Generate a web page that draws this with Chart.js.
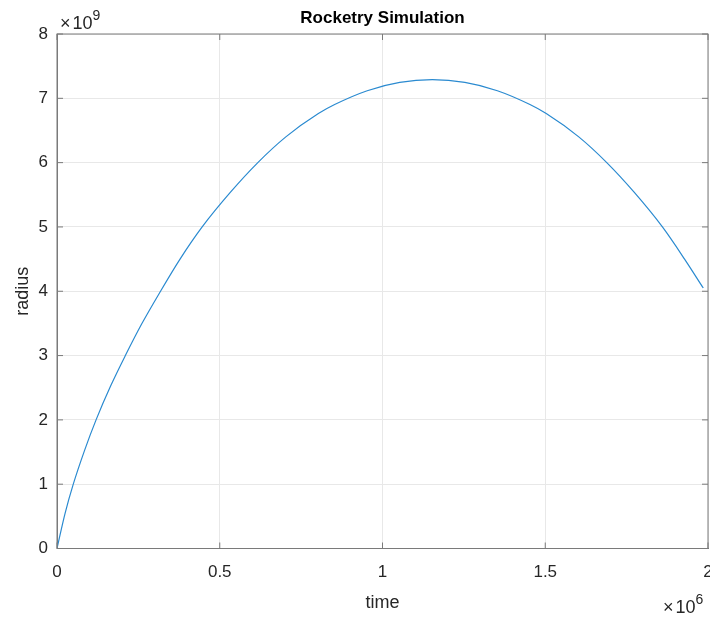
<!DOCTYPE html>
<html>
<head>
<meta charset="utf-8">
<script src="https://cdn.jsdelivr.net/npm/chart.js@4/dist/chart.umd.min.js"></script>
<style>
  html, body { margin: 0; padding: 0; background: #fff; }
</style>
</head>
<body>
<canvas id="rocketChart" width="710" height="617"></canvas>
<script>
// data (time in s, radius in m)
const timeVals = [0, 25000, 50000, 85000, 120000, 165000, 210000, 260000, 318000, 378000, 446000, 533000, 617000, 703000, 803000, 853000, 953000, 1053000, 1153000,
                  1253000, 1353000, 1453000, 1503000, 1603000, 1689000, 1773000, 1860000, 1928000, 1985500];
const radiusVals = [0, 0.55e9, 1.0e9, 1.53e9, 2.0e9, 2.53e9, 3.0e9, 3.49e9, 4.0e9, 4.5e9, 5.0e9, 5.54e9, 6.0e9, 6.40e9, 6.763e9, 6.903e9, 7.118e9, 7.247e9, 7.29e9,
                    7.247e9, 7.118e9, 6.903e9, 6.763e9, 6.40e9, 6.0e9, 5.54e9, 5.0e9, 4.5e9, 4.05e9];
const xTicks = [0, 0.5e6, 1e6, 1.5e6, 2e6];
const yTicks = [0, 1e9, 2e9, 3e9, 4e9, 5e9, 6e9, 7e9, 8e9];

const TEXT = '#262626';
const AXIS = '#7a7a7a';
const GRID = '#e8e8e8';
const LINE = '#2a8ad0';
const FONT = '"Liberation Sans", Arial, sans-serif';

// kotak sumbu ala MATLAB: garis tepi, tick ke dalam, judul dan eksponen
const matlabAxes = {
    id: 'matlabAxes',
    afterDraw(chart) {
        const { ctx, chartArea: a, scales: { x, y } } = chart;
        ctx.save();
        ctx.strokeStyle = AXIS;
        ctx.lineWidth = 1;
        ctx.strokeRect(a.left, a.top, a.right - a.left, a.bottom - a.top);
        ctx.beginPath();
        xTicks.forEach(v => {
            const px = x.getPixelForValue(v);
            ctx.moveTo(px, a.bottom); ctx.lineTo(px, a.bottom - 6);
            ctx.moveTo(px, a.top); ctx.lineTo(px, a.top + 6);
        });
        yTicks.forEach(v => {
            const py = y.getPixelForValue(v);
            ctx.moveTo(a.left, py); ctx.lineTo(a.left + 6, py);
            ctx.moveTo(a.right, py); ctx.lineTo(a.right - 6, py);
        });
        ctx.stroke();

        ctx.fillStyle = '#000';
        ctx.font = 'bold 17px ' + FONT;
        ctx.textAlign = 'center';
        ctx.textBaseline = 'middle';
        ctx.fillText('Rocketry Simulation', (a.left + a.right) / 2, 18);

        // eksponen sumbu
        ctx.fillStyle = TEXT;
        ctx.textAlign = 'left';
        ctx.textBaseline = 'alphabetic';
        const expo = (x0, yBase, power) => {
            ctx.font = '18px ' + FONT;
            ctx.fillText('\u00d7', x0, yBase);
            const wx = ctx.measureText('\u00d7').width + 2;
            ctx.fillText('10', x0 + wx, yBase);
            const w10 = ctx.measureText('10').width;
            ctx.font = '14px ' + FONT;
            ctx.fillText(power, x0 + wx + w10, yBase - 9);
        };
        expo(60, 29, '9');
        expo(663, 613, '6');
        ctx.restore();
    }
};

const points = timeVals.map((t, i) => ({ x: t, y: radiusVals[i] }));

new Chart(document.getElementById('rocketChart'), {
    type: 'scatter',
    data: {
        datasets: [{
            data: points,
            showLine: true,
            borderColor: LINE,
            borderWidth: 1.2,
            pointRadius: 0,
            cubicInterpolationMode: 'monotone',
            fill: false
        }]
    },
    options: {
        responsive: false,
        animation: false,
        devicePixelRatio: 1,
        layout: { padding: { top: 34, right: 2, left: 0, bottom: 0 } },
        plugins: {
            legend: { display: false },
            tooltip: { enabled: false }
        },
        scales: {
            x: {
                type: 'linear',
                min: 0,
                max: 2e6,
                afterBuildTicks: s => { s.ticks = xTicks.map(v => ({ value: v })); },
                afterFit: s => { s.height = 68.5; s.paddingLeft = 0; s.paddingRight = 0; },
                grid: { color: GRID, drawTicks: false },
                border: { color: AXIS },
                ticks: {
                    color: TEXT,
                    font: { family: FONT, size: 17 },
                    padding: 14,
                    maxRotation: 0,
                    callback: v => v / 1e6
                },
                title: {
                    display: true,
                    text: 'time',
                    color: TEXT,
                    font: { family: FONT, size: 18 },
                    padding: { top: 0, bottom: 3 }
                }
            },
            y: {
                type: 'linear',
                min: 0,
                max: 8e9,
                afterBuildTicks: s => { s.ticks = yTicks.map(v => ({ value: v })); },
                afterFit: s => { s.width = 57; s.paddingTop = 0; s.paddingBottom = 0; },
                grid: { color: GRID, drawTicks: false },
                border: { color: AXIS },
                ticks: {
                    color: TEXT,
                    font: { family: FONT, size: 17 },
                    padding: 9,
                    callback: v => v / 1e9
                },
                title: {
                    display: true,
                    text: 'radius',
                    color: TEXT,
                    font: { family: FONT, size: 18 },
                    padding: { top: 12, bottom: 0 }
                }
            }
        }
    },
    plugins: [matlabAxes]
});
</script>
</body>
</html>
